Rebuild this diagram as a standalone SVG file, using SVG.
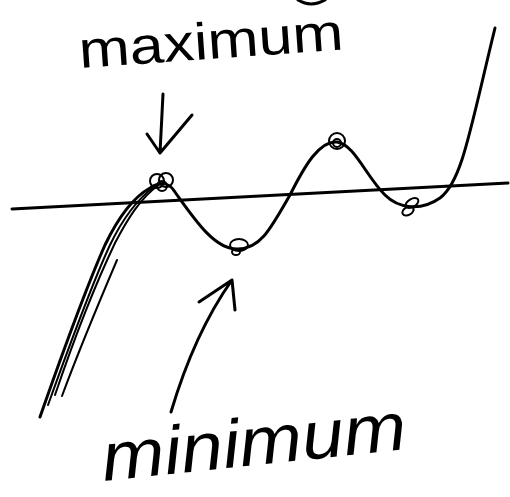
<svg xmlns="http://www.w3.org/2000/svg" width="510" height="497" viewBox="0 0 510 497">
<style>
.s{fill:none;stroke:#000;stroke-width:3;stroke-linecap:round;stroke-linejoin:round}
.t{stroke-width:2}
.lbl{font-family:"Liberation Sans",Arial,sans-serif;fill:#000}
</style>
<rect width="510" height="497" fill="#fff"/>
<path class="s" d="M298 0 Q311 8 325 0"/>
<g id="label-maximum">
<text class="lbl" x="80" y="68" font-size="52" textLength="265" lengthAdjust="spacingAndGlyphs" transform="rotate(-4 80 68)">maximum</text>
</g>
<g id="label-minimum">
<text class="lbl" x="104" y="481" font-size="68" font-style="italic" textLength="306" lengthAdjust="spacingAndGlyphs" transform="rotate(-6 104 481)">minimum</text>
</g>
<g id="axis">
<path class="s" d="M12 209 L508 183"/>
</g>
<g id="curve">
<path class="s" d="M40 417 C60 360 85 290 105 245 C118 218 132 198 150 188 C158 183 168 180 175 192 C195 220 215 250 238 249 C260 249 270 230 290 195 C305 165 320 140 337 142 C355 145 365 175 385 195 C398 208 420 212 440 198 C462 182 470 130 495 28"/>
<path class="s t" d="M48 405 C66 355 90 288 110 245 C122 220 136 200 155 186"/>
<path class="s t" d="M55 395 C72 345 95 285 115 243 C127 220 140 198 160 184"/>
<path class="s t" d="M62 396 C76 358 100 300 117 260"/>
</g>
<g id="maximum-point">
<circle class="s t" cx="157" cy="181" r="7"/>
<circle class="s t" cx="166" cy="180" r="7"/>
<circle class="s t" cx="162" cy="186" r="5"/>
</g>
<g id="minimum-point">
<ellipse class="s t" cx="239" cy="245" rx="9" ry="6"/>
<ellipse class="s t" cx="236" cy="252" rx="4" ry="3"/>
</g>
<g id="peak-point">
<circle class="s t" cx="337" cy="141" r="8"/>
<circle class="s t" cx="337" cy="143" r="4"/>
</g>
<g id="trough-point">
<ellipse class="s t" cx="412" cy="203" rx="7" ry="4" transform="rotate(-30 412 203)"/>
<ellipse class="s t" cx="408" cy="211" rx="6" ry="4" transform="rotate(-30 408 211)"/>
</g>
<g id="connectors">
<path class="s" d="M163 94 L160 153 M147 134 L160 153 L192 115"/>
<path class="s" d="M171 412 C185 365 205 318 232 280 M199 302 L232 280 L235 310"/>
</g>
</svg>
